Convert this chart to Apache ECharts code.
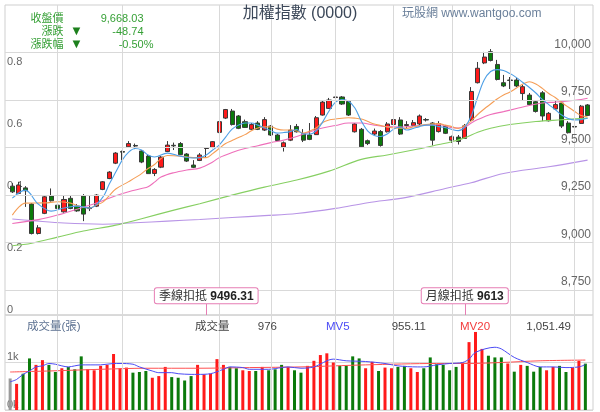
<!DOCTYPE html>
<html>
<head>
<meta charset="utf-8">
<script src="https://cdn.jsdelivr.net/npm/echarts@6.0.0/dist/echarts.min.js"></script>
<style>
html,body{margin:0;padding:0;background:#fff;}
#chart{width:600px;height:412px;}
</style>
</head>
<body>
<div id="chart"></div>
<script>
// ---------------- data ----------------
const opens = [9296,9258,9287,9202,9047,9153,9244,9196,9161,9232, 9191,9244,9178,9191,9279,9336,9417,9478,9503,9510,
  9481,9454,9363,9396,9478,9511,9520,9465,9407,9431, 9494,9500,9579,9654,9691,9665,9635,9595,9628,9591,
  9612,9565,9502,9538,9610,9572,9565,9567,9670,9705, 9762,9765,9741,9582,9595,9535,9570,9583,9582,9620,
  9644,9615,9615,9623,9646,9628,9583,9610,9538,9554, 9547,9644,9840,9944,10003,9936,9840,9854,9854,9783,
  9775,9740,9787,9640,9702,9733,9628,9610,9626,9723];
const closes = [9266,9302,9272,9047,9077,9240,9219,9179,9226,9179, 9166,9149,9184,9249,9319,9370,9470,9475,9520,9507,
  9423,9362,9384,9449,9512,9508,9462,9428,9395,9460, 9496.31,9530,9635,9699,9620,9600,9605,9620,9595,9646,
  9565,9536,9524,9591,9582,9538,9542,9656,9738,9749, 9765,9728,9670,9623,9503,9520,9586,9510,9623,9646,
  9570,9620,9630,9665,9644,9538,9625,9574,9556,9531, 9613,9794,9916,9975,9957,9857,9823,9852,9823,9819,
  9725,9689,9665,9679,9725,9612,9577,9607,9716.77,9668.03];
const lows = [9260,9254,9187,9042,9042,9149,9215,9170,9157,9175, 9161,9112,9165,9186,9275,9333,9412,9433,9502,9491,
  9417,9360,9349,9391,9475,9486,9460,9423,9391,9428, 9444,9496,9575,9649,9615,9596,9602,9591,9591,9586,
  9560,9533,9478,9533,9578,9528,9538,9565,9667,9702, 9741,9723,9665,9578,9502,9512,9562,9504,9578,9617,
  9565,9599,9610,9617,9636,9510,9578,9570,9523,9515, 9544,9638,9836,9938,9952,9852,9817,9807,9817,9749,
  9720,9683,9638,9636,9696,9602,9573,9528,9623,9665];
const highs = [9312,9319,9296,9207,9091,9244,9284,9207,9249,9249, 9202,9254,9244,9254,9323,9375,9475,9483,9533,9520,
  9486,9460,9391,9454,9533,9525,9528,9470,9433,9470, 9499,9533,9638,9702,9702,9670,9646,9628,9638,9659,
  9617,9570,9531,9617,9623,9596,9628,9665,9744,9760, 9778,9770,9746,9628,9602,9541,9599,9591,9633,9665,
  9659,9638,9644,9673,9654,9633,9638,9617,9562,9565, 9623,9817,9949,10002,10017,9960,9881,9870,9865,9828,
  9786,9749,9796,9686,9744,9744,9638,9615,9723,9728];
const volumes = [664,550,764,1086,950,1050,950,800,879,907, 857,1129,857,836,929,950,1179,879,893,786,
  800,821,679,714,907,693,679,621,714,950, 750,764,1071,950,907,879,836,821,821,907,
  836,857,950,907,836,786,929,1036,1157,1193, 1000,929,929,1129,1086,879,1014,821,893,879,
  907,929,879,800,879,1107,964,950,836,907, 1000,1429,1643,1286,1143,1107,1107,979,807,950,
  929,807,907,836,907,929,800,893,1036,976];
// volume bar colour: r = up vs previous close, g = down, n = no reference
const volDir = ['n','r','g','g','r','r','g','g','r','g', 'g','g','r','r','r','r','r','r','r','g',
  'g','g','r','r','r','g','g','g','g','r', 'r','r','r','r','g','g','r','r','g','r',
  'g','g','g','r','g','g','r','r','r','r', 'r','g','g','g','g','r','r','g','r','r',
  'g','g','r','r','g','g','g','g','g','g', 'r','r','r','r','g','g','g','r','g','r',
  'g','g','g','r','r','g','g','r','r','g'];
// moving averages, sampled as [candle index, value]
const ma5 = [[0,9233],[2,9275],[4,9202],[6,9165],[8,9181],[10,9191],[12,9181],[14,9238],[15,9307],[16,9370],[17,9433],[18,9475],[19,9494],[20,9486],[21,9460],[22,9449],[24,9470],[26,9454],[28,9444],[29,9446],[30,9460],[31,9486],[32,9512],[33,9554],[34,9596],[35,9617],[36,9628],[37,9628],[38,9617],[39,9602],[40,9588],[41,9575],[42,9578],[43,9583],[44,9594],[45,9570],[46,9570],[47,9586],[48,9633],[49,9691],[50,9738],[51,9752],[52,9744],[53,9707],[54,9638],[55,9586],[56,9562],[57,9557],[58,9570],[59,9596],[60,9607],[61,9591],[62,9599],[63,9609],[64,9617],[65,9617],[66,9609],[67,9604],[68,9594],[69,9588],[70,9607],[71,9665],[72,9765],[73,9854],[74,9899],[75,9909],[76,9904],[77,9888],[78,9867],[79,9841],[80,9815],[81,9786],[82,9752],[83,9725],[84,9699],[85,9670],[86,9652],[87,9644],[88,9646],[89,9653]];
const ma10 = [[0,9144],[1,9186],[2,9207],[5,9208],[7,9214],[9,9207],[10,9194],[12,9181],[13,9197],[14,9212],[15,9246],[16,9281],[18,9320],[20,9362],[21,9389],[22,9410],[23,9441],[24,9457],[26,9454],[28,9446],[30,9446],[31,9467],[32,9494],[33,9520],[34,9536],[35,9552],[36,9567],[37,9588],[38,9602],[39,9608],[40,9608],[41,9596],[42,9591],[43,9591],[44,9586],[45,9575],[46,9586],[47,9602],[48,9631],[49,9644],[50,9649],[52,9656],[53,9654],[54,9649],[55,9636],[56,9623],[57,9615],[58,9608],[59,9602],[61,9600],[62,9607],[64,9620],[66,9625],[67,9617],[68,9609],[69,9600],[70,9615],[71,9638],[72,9673],[73,9702],[74,9728],[75,9754],[76,9775],[77,9791],[78,9812],[79,9833],[80,9845],[81,9833],[82,9810],[83,9783],[84,9762],[85,9736],[86,9712],[87,9689],[88,9667],[89,9660]];
const ma20 = [[0,9100],[4,9120],[7,9144],[10,9175],[13,9207],[16,9246],[18,9267],[20,9284],[21,9293],[22,9317],[23,9344],[25,9367],[27,9381],[29,9391],[31,9423],[32,9446],[34,9473],[36,9494],[38,9509],[40,9525],[42,9538],[44,9557],[46,9581],[48,9602],[50,9615],[52,9628],[54,9628],[56,9617],[58,9609],[60,9607],[62,9612],[64,9617],[66,9620],[68,9604],[69,9602],[70,9607],[71,9628],[72,9646],[74,9673],[76,9688],[78,9704],[80,9720],[82,9733],[84,9738],[86,9744],[88,9752],[89,9758]];
const ma60 = [[0,8983],[3,8996],[7,9028],[11,9060],[16,9091],[20,9125],[25,9170],[29,9204],[34,9249],[39,9291],[44,9328],[49,9375],[54,9437],[58,9460],[62,9486],[66,9515],[68,9530],[70,9550],[72,9580],[74,9601],[77,9620],[81,9636],[85,9645],[89,9654]];
const ma120 = [[0,9123],[3,9115],[8,9102],[14,9096],[19,9104],[24,9112],[29,9121],[34,9131],[39,9141],[44,9152],[50,9179],[55,9209],[61,9237],[67,9284],[71,9314],[76,9363],[83,9398],[89,9433]];
const mv5 = [[0,593],[1,643],[2,750],[3,821],[4,907],[5,929],[6,979],[7,964],[8,929],[9,907],[10,929],[11,950],[14,950],[16,979],[17,979],[19,964],[20,907],[22,821],[23,786],[25,786],[26,764],[28,750],[29,750],[31,764],[33,857],[34,907],[36,893],[37,857],[40,857],[42,893],[43,907],[45,879],[47,907],[50,1071],[52,1036],[55,1021],[58,979],[60,929],[63,907],[64,907],[66,950],[68,979],[70,1000],[71,1071],[72,1214],[75,1321],[76,1286],[78,1107],[80,1000],[82,907],[84,907],[86,893],[88,907],[89,955.11]];
const mv20 = [[0,800],[6,821],[14,857],[21,879],[29,879],[37,893],[45,907],[55,950],[66,979],[71,979],[76,1000],[82,1036],[89,1051.49]];
// tick labels / reference positions
const priceTicks = [8750, 9000, 9250, 9500, 9750, 10000];
const leftTicks = [0, 0.2, 0.4, 0.6, 0.8];
const gridIdx = [7, 17, 32, 40, 50, 59, 68, 77, 87];
const quarterIdx = 30;   // 季線扣抵
const monthIdx = 70;     // 月線扣抵

// ---------------- chart ----------------
const days = opens.map((_, i) => String(i + 1));
const FONT = '"Liberation Sans", Arial, "Noto Sans CJK TC", sans-serif';
const P_MIN = 8618.5, P_MAX = 10248.7;
const GL = 9.1, GW = 581.7;
const UP = '#ff1a1a', DOWN = '#0b7a0b';

const n = closes.length;
const last = closes[n - 1], prev = closes[n - 2];
const chg = last - prev, pct = chg / prev * 100;
const fmt2 = v => v.toLocaleString('en-US', {minimumFractionDigits: 2, maximumFractionDigits: 2});

function maSeries(name, data, color) {
  return {name, type: 'line', xAxisIndex: 1, yAxisIndex: 2, data, showSymbol: false, symbol: 'none',
    smooth: 0.35, z: 3, silent: true, lineStyle: {color, width: 1.1}};
}
function txt(x, y, text, o) {
  return {type: 'text', x, y, z: 20, silent: true,
    style: Object.assign({text, fontFamily: FONT, fontSize: 11, fill: '#444', align: 'left', verticalAlign: 'middle'}, o || {})};
}
function marker(idx, text) {
  return [{coord: [idx, 8680],
      lineStyle: {color: '#e67db4', width: 1, type: 'solid'},
      label: {show: true, position: 'start', distance: 0, formatter: text,
        backgroundColor: '#fff', borderColor: '#e67db4', borderWidth: 1, borderRadius: 2, padding: [2, 4, 1, 4],
        rich: {tt: {fontSize: 12, color: '#333', fontFamily: FONT}, nn: {fontSize: 12, color: '#222', fontWeight: 'bold', fontFamily: FONT}}}},
    {coord: [idx, P_MIN]}];
}

const GREEN_T = '#36a036', GREEN_D = '#1d801d';

const option = {
  animation: false,
  backgroundColor: '#fff',
  textStyle: {fontFamily: FONT},
  grid: [
    {left: 5, top: 5, width: 588, height: 310, show: true, borderColor: '#cfcfcf', borderWidth: 1, backgroundColor: 'transparent'},
    {left: GL, top: 5, width: GW, height: 310},
    {left: 5, top: 315, width: 588, height: 95, show: true, borderColor: '#cfcfcf', borderWidth: 1, backgroundColor: 'transparent'},
    {left: GL, top: 315, width: GW, height: 95},
    {left: GL - 2.2, top: 315, width: GW, height: 95}
  ],
  xAxis: [
    {gridIndex: 0, type: 'value', min: 0, max: 1, show: false},
    {gridIndex: 1, type: 'category', data: days, show: false},
    {gridIndex: 2, type: 'value', min: 0, max: 1, show: false},
    {gridIndex: 3, type: 'category', data: days, show: false},
    {gridIndex: 4, type: 'category', data: days, show: false}
  ],
  yAxis: [
    {gridIndex: 0, type: 'value', position: 'right', min: P_MIN, max: P_MAX, show: false},
    {gridIndex: 0, type: 'value', position: 'left', min: 0, max: 1, interval: 0.2,
      axisLine: {show: false}, axisTick: {show: false}, splitLine: {show: false},
      axisLabel: {inside: true, margin: 2, verticalAlign: 'bottom', color: '#666', fontSize: 11, fontFamily: FONT,
        formatter: v => { const m = leftTicks.find(t => Math.abs(t - v) < 1e-6); return m === undefined ? '' : (m === 0 ? '0' : m.toFixed(1)); }}},
    {gridIndex: 1, type: 'value', min: P_MIN, max: P_MAX, show: false},
    {gridIndex: 2, type: 'value', position: 'left', min: 0, max: 2000, interval: 1000,
      axisLine: {show: false}, axisTick: {show: false},
      splitLine: {show: true, lineStyle: {color: '#d9d9d9', width: 1}},
      axisLabel: {inside: true, margin: 2, verticalAlign: 'bottom', color: '#666', fontSize: 11, fontFamily: FONT,
        formatter: v => v >= 2000 ? '' : (v / 1000) + 'k'}},
    {gridIndex: 3, type: 'value', min: 0, max: 2000, show: false},
    {gridIndex: 4, type: 'value', min: 0, max: 2000, show: false}
  ],
  series: [
    {type: 'line', xAxisIndex: 0, yAxisIndex: 0, data: [], z: 1, silent: true,
      markLine: {silent: true, symbol: ['none', 'none'], animation: false,
        lineStyle: {color: '#d9d9d9', width: 1, type: 'solid'},
        label: {show: true, position: 'insideEndTop', distance: 2, color: '#666', fontSize: 12, fontFamily: FONT,
          formatter: p => Number(p.value).toLocaleString('en-US')},
        data: priceTicks.map(v => ({yAxis: v}))}},
    {type: 'line', xAxisIndex: 1, yAxisIndex: 2, data: [], z: 1, silent: true,
      markLine: {silent: true, symbol: ['none', 'none'], animation: false, label: {show: false},
        lineStyle: {color: '#d9d9d9', width: 1, type: 'solid'},
        data: gridIdx.map(i => ({xAxis: i}))}},
    {type: 'candlestick', xAxisIndex: 1, yAxisIndex: 2, z: 2, silent: true, barWidth: 4.6,
      data: opens.map((o, i) => [o, closes[i], lows[i], highs[i]]),
      itemStyle: {color: UP, color0: DOWN, borderColor: '#3a3a3a', borderColor0: '#3a3a3a', borderWidth: 1}},
    maSeries('MA120', ma120, '#b894e6'),
    maSeries('MA60', ma60, '#86cf62'),
    maSeries('MA20', ma20, '#ee6fba'),
    maSeries('MA10', ma10, '#f59d55'),
    maSeries('MA5', ma5, '#4d9fe6'),
    {type: 'line', xAxisIndex: 1, yAxisIndex: 2, data: [], z: 6, silent: true,
      markLine: {silent: true, symbol: ['none', 'none'], animation: false,
        data: [
          marker(quarterIdx, '{tt|季線扣抵} {nn|' + closes[quarterIdx].toFixed(2) + '}'),
          marker(monthIdx, '{tt|月線扣抵} {nn|' + String(closes[monthIdx]) + '}')
        ]}},
    {type: 'line', xAxisIndex: 3, yAxisIndex: 4, data: [], z: 1, silent: true,
      markLine: {silent: true, symbol: ['none', 'none'], animation: false, label: {show: false},
        lineStyle: {color: '#d9d9d9', width: 1, type: 'solid'},
        data: gridIdx.map(i => ({xAxis: i}))}},
    {type: 'bar', xAxisIndex: 4, yAxisIndex: 5, z: 2, silent: true, barWidth: 3,
      data: volumes.map((v, i) => ({value: v, itemStyle: {color: volDir[i] === 'r' ? UP : (volDir[i] === 'g' ? DOWN : '#9a9a9a')}}))},
    {type: 'line', xAxisIndex: 4, yAxisIndex: 5, data: mv20, showSymbol: false, symbol: 'none', smooth: 0.3, z: 3, silent: true,
      lineStyle: {color: '#ff5050', width: 1}},
    {type: 'line', xAxisIndex: 4, yAxisIndex: 5, data: mv5, showSymbol: false, symbol: 'none', smooth: 0.3, z: 3, silent: true,
      lineStyle: {color: '#4b4bf5', width: 1}}
  ],
  graphic: [
    txt(300, 13.5, '加權指數 (0000)', {fontSize: 16, fill: '#3b4758', align: 'center'}),
    txt(402, 14, '玩股網 www.wantgoo.com', {fontSize: 12, fill: '#6b809b'}),
    txt(63.5, 18.5, '收盤價', {fill: GREEN_T, align: 'right'}),
    txt(143.5, 18.5, fmt2(last), {fill: GREEN_T, align: 'right'}),
    txt(63.5, 31.5, '漲跌', {fill: GREEN_T, align: 'right'}),
    txt(76.5, 31.5, chg < 0 ? '▼' : '▲', {fill: GREEN_D, align: 'center', fontSize: 13}),
    txt(143.5, 31.5, chg.toFixed(2), {fill: GREEN_T, align: 'right'}),
    txt(63.5, 44.5, '漲跌幅', {fill: GREEN_T, align: 'right'}),
    txt(76.5, 44.5, chg < 0 ? '▼' : '▲', {fill: GREEN_D, align: 'center', fontSize: 13}),
    txt(153.5, 44.5, pct.toFixed(2) + '%', {fill: GREEN_T, align: 'right'}),
    txt(27, 326.5, '成交量(張)', {fontSize: 11.5, fill: '#5c7191'}),
    txt(195, 327, '成交量', {fontSize: 11.5, fill: '#444'}),
    txt(277, 327, String(volumes[n - 1]), {fontSize: 11.5, fill: '#444', align: 'right'}),
    txt(326, 327, 'MV5', {fontSize: 11.5, fill: '#4b4bf5'}),
    txt(426, 327, fmt2(mv5[mv5.length - 1][1]), {fontSize: 11.5, fill: '#444', align: 'right'}),
    txt(460, 327, 'MV20', {fontSize: 11.5, fill: '#f23b3b'}),
    txt(571, 327, fmt2(mv20[mv20.length - 1][1]), {fontSize: 11.5, fill: '#444', align: 'right'})
  ]
};

const chart = echarts.init(document.getElementById('chart'), null, {renderer: 'canvas'});
chart.setOption(option);
</script>
</body>
</html>
